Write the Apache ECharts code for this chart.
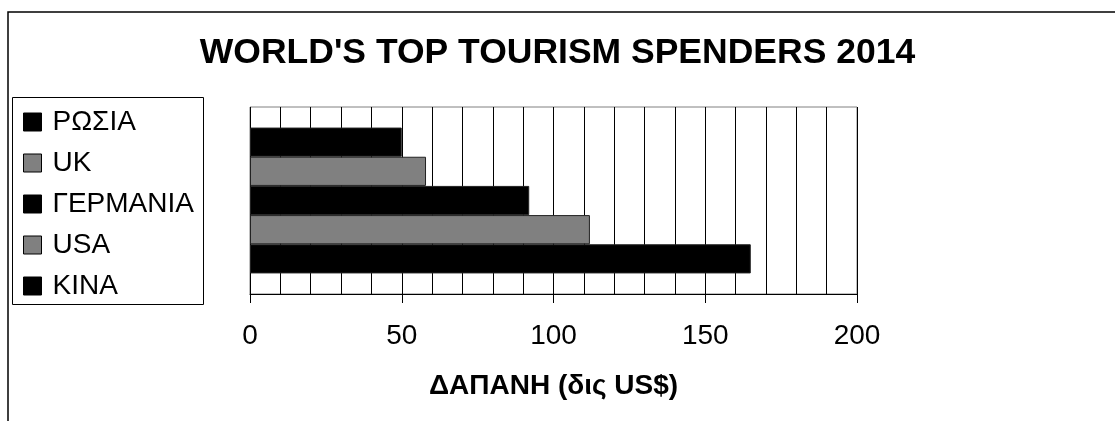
<!DOCTYPE html>
<html>
<head>
<meta charset="utf-8">
<script src="https://cdn.jsdelivr.net/npm/echarts@6/dist/echarts.min.js"></script>
<style>
  html, body { margin: 0; padding: 0; background: #fff; }
  #chart { width: 1115px; height: 421px; }
</style>
</head>
<body>
<div id="chart"></div>
<script>
// χώρες (σειρά του υπομνήματος, από πάνω προς τα κάτω)
const countries = ['ΡΩΣΙΑ', 'UK', 'ΓΕΡΜΑΝΙΑ', 'USA', 'ΚΙΝΑ']
// δαπάνη σε δις US$
const spending = [50, 58, 92, 112, 165]
const xTicks = [0, 50, 100, 150, 200]

const FONT = '"Liberation Sans", Arial, sans-serif'
const barColors = ['#000000', '#808080', '#000000', '#808080', '#000000']

const chart = echarts.init(document.getElementById('chart'))

// one category, one series per country (like the original sheet)
// first series ends up on top, same as the legend
const series = countries.map(function(name, i) {
  return {
    name: name,
    type: 'bar',
    barGap: 0,
    barCategoryGap: '22%',
    itemStyle: {
      color: barColors[i],
      borderColor: '#222',
      borderWidth: 1
    },
    data: [spending[i]]
  }
})

const option = {
  animation: false,
  backgroundColor: '#fff',
  title: {
    text: "WORLD'S TOP TOURISM SPENDERS 2014",
    left: 'center',
    top: 30,
    textStyle: {
      fontFamily: FONT,
      fontSize: 35.5,
      fontWeight: 'bold',
      color: '#000'
    }
  },
  legend: {
    data: countries,
    orient: 'vertical',
    left: 23,
    top: 108,
    padding: 0,
    itemGap: 13,
    itemWidth: 18,
    itemHeight: 18,
    icon: 'rect',
    itemStyle: { borderColor: '#000', borderWidth: 1 },
    textStyle: {
      fontFamily: FONT,
      fontSize: 28,
      color: '#000',
      padding: [0, 0, 0, 6]
    }
  },
  graphic: [
    { // outer frame of the chart object
      type: 'rect',
      shape: { x: 8, y: 12, width: 1300, height: 600 },
      style: { fill: null, stroke: '#000', lineWidth: 1.5 },
      silent: true
    },
    { // legend box
      type: 'rect',
      shape: { x: 12.5, y: 97.5, width: 191, height: 207 },
      style: { fill: null, stroke: '#000', lineWidth: 1 },
      silent: true
    }
  ],
  grid: {
    left: 250,
    top: 107,
    width: 607,
    height: 187,
    show: true,
    borderColor: '#808080',
    borderWidth: 1,
    containLabel: false
  },
  xAxis: {
    type: 'value',
    min: xTicks[0],
    max: xTicks[xTicks.length - 1],
    interval: xTicks[1] - xTicks[0],
    name: 'ΔΑΠΑΝΗ (δις US$)',
    nameLocation: 'middle',
    nameGap: 78,
    nameTextStyle: {
      fontFamily: FONT,
      fontSize: 28,
      fontWeight: 'bold',
      color: '#000'
    },
    axisLine: { show: true, lineStyle: { color: '#000', width: 1 } },
    axisTick: { show: true, inside: false, length: 9, lineStyle: { color: '#000' } },
    axisLabel: {
      margin: 28,
      fontFamily: FONT,
      fontSize: 28,
      color: '#000'
    },
    splitLine: { show: true, lineStyle: { color: '#000', width: 1 } },
    minorTick: { show: false, splitNumber: 5 },
    minorSplitLine: { show: true, lineStyle: { color: '#000', width: 1 } }
  },
  yAxis: {
    type: 'category',
    data: [''],
    axisLine: { show: false },
    axisTick: { show: false },
    axisLabel: { show: false },
    splitLine: { show: false }
  },
  series: series
}

chart.setOption(option)
</script>
</body>
</html>
